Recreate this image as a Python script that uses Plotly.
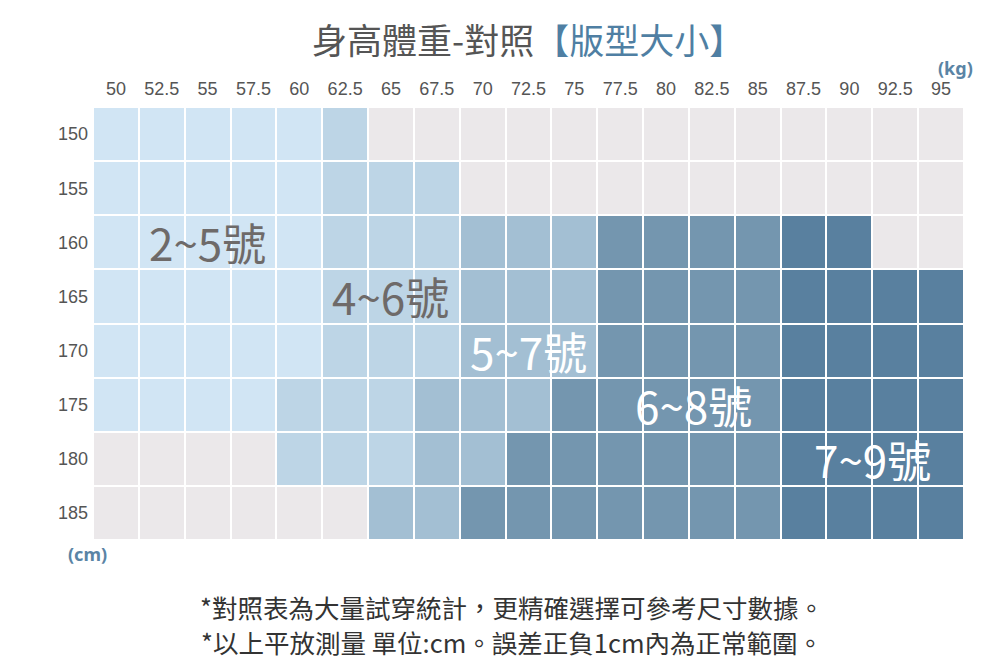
import plotly.graph_objects as go

weights = [50, 52.5, 55, 57.5, 60, 62.5, 65, 67.5, 70, 72.5, 75, 77.5, 80, 82.5, 85, 87.5, 90, 92.5, 95]
heights = [150, 155, 160, 165, 170, 175, 180, 185]
# 0 = no size, 1 = 2~5號, 2 = 4~6號, 3 = 5~7號, 4 = 6~8號, 5 = 7~9號
size_grid = [
    [1, 1, 1, 1, 1, 2, 0, 0, 0, 0, 0, 0, 0, 0, 0, 0, 0, 0, 0],
    [1, 1, 1, 1, 1, 2, 2, 2, 0, 0, 0, 0, 0, 0, 0, 0, 0, 0, 0],
    [1, 1, 1, 1, 1, 2, 2, 2, 3, 3, 3, 4, 4, 4, 4, 5, 5, 0, 0],
    [1, 1, 1, 1, 1, 2, 2, 2, 3, 3, 3, 4, 4, 4, 4, 5, 5, 5, 5],
    [1, 1, 1, 1, 1, 2, 2, 2, 3, 3, 3, 4, 4, 4, 4, 5, 5, 5, 5],
    [1, 1, 1, 1, 2, 2, 2, 3, 3, 3, 4, 4, 4, 4, 4, 5, 5, 5, 5],
    [0, 0, 0, 0, 2, 2, 2, 3, 3, 4, 4, 4, 4, 4, 4, 5, 5, 5, 5],
    [0, 0, 0, 0, 0, 0, 3, 3, 4, 4, 4, 4, 4, 4, 4, 5, 5, 5, 5],
]
size_labels = ["2~5號", "4~6號", "5~7號", "6~8號", "7~9號"]
label_x = [55, 65, 72.5, 81.5, 91.25]
label_y = [160, 165, 170, 175, 180]
label_colors = ["#6e6a69", "#6e6a69", "white", "white", "white"]
footer_lines = [
    "*對照表為大量試穿統計，更精確選擇可參考尺寸數據。",
    "*以上平放測量 單位:cm。誤差正負1cm內為正常範圍。",
]

colors = ["#ebe8ea", "#d1e5f4", "#bdd5e6", "#a3bfd3", "#7496af", "#59809f"]
cs = []
for i, c in enumerate(colors):
    cs.append([i / 6, c])
    cs.append([(i + 1) / 6, c])

fig = go.Figure()
fig.add_trace(go.Heatmap(
    x=weights, y=heights, z=size_grid,
    zmin=-0.5, zmax=5.5, colorscale=cs, showscale=False,
    xgap=2, ygap=2, hoverinfo="skip",
))

for t, x, y, c in zip(size_labels, label_x, label_y, label_colors):
    fig.add_annotation(x=x, y=y, text=t, showarrow=False, xanchor="center", yanchor="middle",
                       font=dict(size=44, color=c, family="Noto Sans CJK TC"))

fig.add_annotation(xref="paper", yref="paper", x=0.499, y=1.0, yshift=69,
                   xanchor="center", yanchor="middle",
                   text="身高體重-對照<span style='color:#4f7fa3'>【版型大小】</span>",
                   showarrow=False, font=dict(size=35, color="#555555", family="Noto Sans CJK TC"))
fig.add_annotation(xref="paper", yref="paper", x=(955 - 93) / 871, y=1.0,
                   xanchor="center", yanchor="middle",
                   yshift=39, text="<b>(kg)</b>", showarrow=False,
                   font=dict(size=18, color="#5a84a5", family="Noto Sans"))
fig.add_annotation(xref="paper", yref="paper", x=(87 - 93) / 871, y=0.0,
                   xanchor="center", yanchor="middle",
                   yshift=-14, text="<b>(cm)</b>", showarrow=False,
                   font=dict(size=18, color="#5a84a5", family="Noto Sans"))
for line, ys in zip(footer_lines, [-66, -101]):
    fig.add_annotation(xref="paper", yref="paper", x=0.481, y=0.0, yshift=ys,
                       xanchor="center", yanchor="middle", text=line, showarrow=False,
                       font=dict(size=25.5, color="#333333", family="Noto Sans CJK TC"))

fig.update_xaxes(side="top", tickvals=weights, ticktext=[str(w) for w in weights],
                 showgrid=False, zeroline=False, ticks="", ticklen=0,
                 tickfont=dict(size=18, color="#555555", family="Liberation Sans"),
                 ticklabelstandoff=7, range=[48.75, 96.25])
fig.update_yaxes(autorange="reversed", tickvals=heights, showgrid=False, zeroline=False,
                 ticks="", tickfont=dict(size=18, color="#555555", family="Liberation Sans"),
                 ticklabelstandoff=4)

fig.update_layout(width=1008, height=665, margin=dict(l=85, r=52, t=99, b=133),
                  plot_bgcolor="white", paper_bgcolor="white", showlegend=False)

fig.write_html("out.html")
